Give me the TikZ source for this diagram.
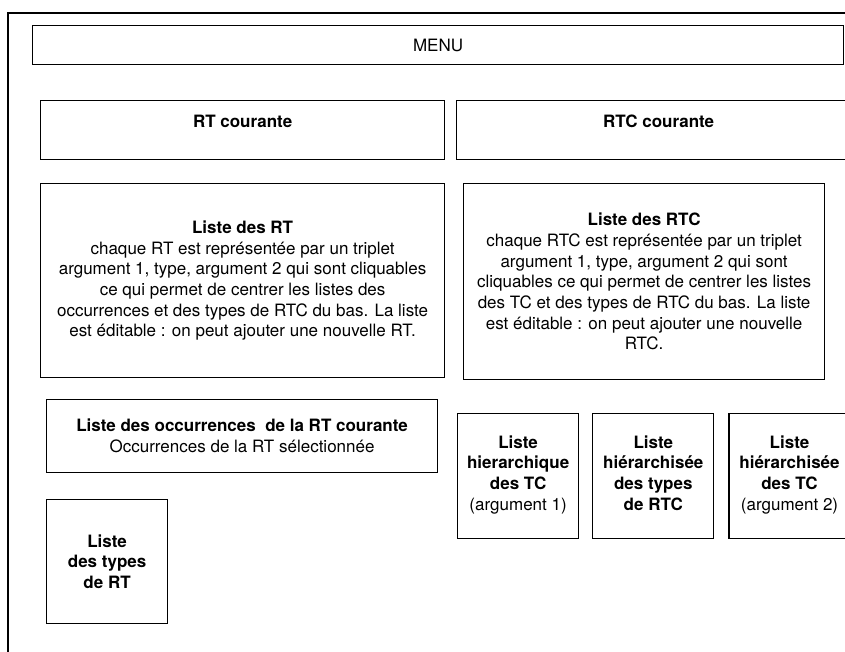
\documentclass[tikz,border=0pt]{standalone}
\usepackage{fontspec}
\setmainfont{TeX Gyre Heros}
\usetikzlibrary{positioning}

\begin{document}
\begin{tikzpicture}[x=1pt,y=-1pt,line width=1.2pt,
	every node/.style={font=\fontsize{17}{20.7}\selectfont},
	zone/.style={draw,rectangle,anchor=north west,inner sep=0pt,align=center},
	petite zone/.style={zone,minimum width=121pt,minimum height=125pt,execute at end node=\strut}]
	
	\useasboundingbox (0,0) rectangle (845,652);
	\clip (0,0) rectangle (845,652);
	
	% cadre de la fenetre
	\draw (8,700) -- (8,13) -- (900,13);
	
	\node[zone,minimum width=811pt,minimum height=39pt] (menu) at (32,25) {MENU};
	
	\node[zone,minimum width=404pt,text height=27pt,text depth=32pt] (rt) at (40,100) {\textbf{RT courante}};
	\node[zone,minimum width=404pt,text height=27pt,text depth=32pt] (rtc) at (456,100) {\textbf{RTC courante}};
	
	\node[zone,minimum width=404pt,minimum height=194pt] (listert) at (40,183)
	{\textbf{Liste des RT}\\chaque RT est représentée par un triplet\\argument 1, type, argument 2 qui sont cliquables\\ce qui permet de centrer les listes des\\occurrences et des types de RTC du bas. La liste\\est éditable : on peut ajouter une nouvelle RT.};
	\node[zone,minimum width=361pt,minimum height=196pt] (liste rtc) at (463,183)
	{\textbf{Liste des RTC}\\chaque RTC est représentée par un triplet\\argument 1, type, argument 2 qui sont\\cliquables ce qui permet de centrer les listes\\des TC et des types de RTC du bas. La liste\\est éditable : on peut ajouter une nouvelle\\RTC.};
	
	\node[zone,minimum width=391pt,minimum height=73pt] (occ) at (46,399)
	{\textbf{Liste des occurrences\ \ de la RT courante}\\Occurrences de la RT sélectionnée};
	\node[zone,minimum width=121pt,minimum height=124pt] (types rt) at (46,499)
	{\textbf{Liste}\\\textbf{des types}\\\textbf{de RT}};
	
	\node[petite zone] (tc1) at (457,413) {\textbf{Liste}\\\textbf{hierarchique}\\\textbf{des TC}\\(argument 1)};
	\node[petite zone,right=13pt of tc1] (types rtc) {\textbf{Liste}\\\textbf{hiérarchisée}\\\textbf{des types}\\\textbf{de RTC}};
	\node[petite zone,right=14pt of types rtc] (tc2) {\textbf{Liste}\\\textbf{hiérarchisée}\\\textbf{des TC}\\(argument 2)};
\end{tikzpicture}
\end{document}
